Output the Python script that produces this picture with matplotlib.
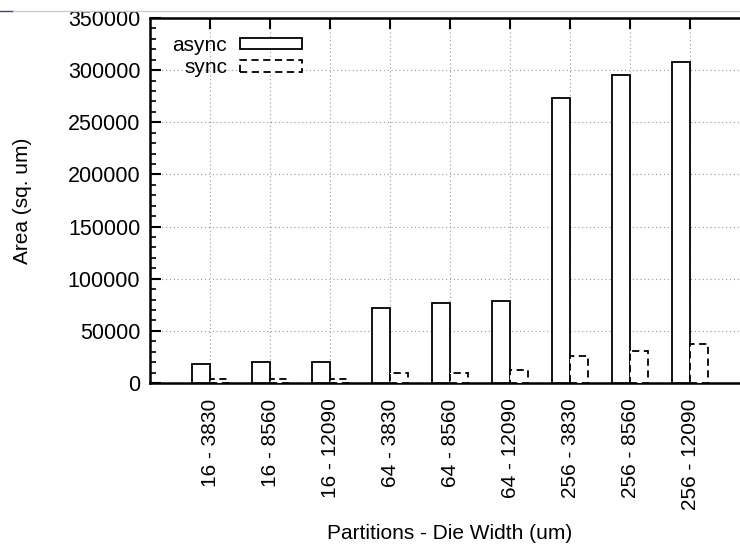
import matplotlib
matplotlib.use("Agg")
import matplotlib.pyplot as plt
import numpy as np
from matplotlib.lines import Line2D
from matplotlib.ticker import MultipleLocator

categories = ["16 - 3830", "16 - 8560", "16 - 12090",
              "64 - 3830", "64 - 8560", "64 - 12090",
              "256 - 3830", "256 - 8560", "256 - 12090"]
async_area = [18500, 20000, 20400, 71500, 77000, 79000, 273000, 295000, 308000]
sync_area = [3500, 4000, 3800, 10000, 10000, 12500, 25500, 30500, 37000]

plt.rcParams['font.family'] = ['Liberation Sans', 'DejaVu Sans']
fs = 15

fig = plt.figure(figsize=(7.4, 5.47), dpi=100)
ax = fig.add_axes([150/740, (547-383)/547, 600/740, 365/547])

x = np.arange(len(categories))
w = 0.3
ax.bar(x - w/2, async_area, width=w, facecolor='white', edgecolor='black',
       linewidth=1.3, label='async', zorder=3)
ax.bar(x + w/2, sync_area, width=w, facecolor='white', edgecolor='black',
       linewidth=1.3, linestyle=(0, (4, 2.5)), label='sync', zorder=3)

ax.set_xlim(-1, 9)
ax.set_ylim(0, 350000)
ax.set_xticks(x)
ax.set_xticklabels(categories, rotation=90, fontsize=fs)
ax.yaxis.set_major_locator(MultipleLocator(50000))
ax.yaxis.set_minor_locator(MultipleLocator(10000))
ax.tick_params(axis='y', which='major', direction='in', length=8, width=1.5,
               labelsize=15.5, pad=7)
ax.tick_params(axis='y', which='minor', direction='in', length=4, width=1.2)
ax.tick_params(axis='x', which='major', direction='in', length=8, width=1.5,
               top=True, pad=11)
ax.grid(True, which='major', linestyle=(0, (1, 2.5)), color='#999999', linewidth=0.8, zorder=0)
for s in ax.spines.values():
    s.set_linewidth(1.8)

ax.set_xlabel("Partitions - Die Width (um)", fontsize=fs, labelpad=10)
ax.set_ylabel("Area (sq. um)", fontsize=fs, labelpad=26)

leg = ax.legend(loc='upper left', bbox_to_anchor=(0.013, 0.99), frameon=False,
                markerfirst=False, fontsize=fs, handlelength=3.0,
                handleheight=0.45, labelspacing=0.15, handletextpad=0.6,
                borderaxespad=0.3)
for t in leg.get_texts():
    t.set_ha('right')

fig.add_artist(Line2D([0, 13/740], [1 - 11/547, 1 - 11/547], color='#3a3aa0', linewidth=1.0))
fig.add_artist(Line2D([13/740, 1], [1 - 11/547, 1 - 11/547], color='#c8c8ec', linewidth=1.0))

fig.savefig("out.png", dpi=100)
